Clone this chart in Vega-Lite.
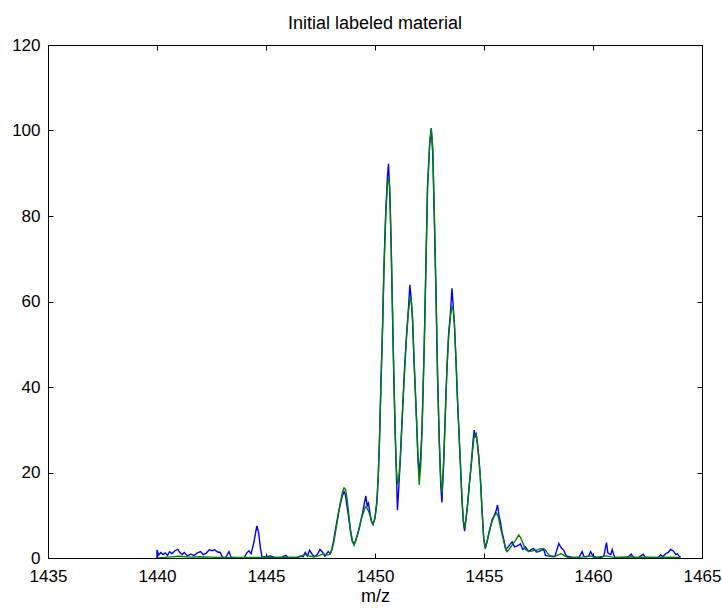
{
  "$schema": "https://vega.github.io/schema/vega-lite/v6.json",
  "autosize": {"type": "none"},
  "width": 654,
  "height": 513,
  "padding": {"left": 48, "top": 45, "right": 20, "bottom": 52},
  "background": "white",
  "title": {"text": "Initial labeled material", "fontSize": 18, "fontWeight": "normal", "font": "Liberation Sans", "color": "black", "offset": 3},
  "config": {
    "view": {"stroke": "black", "strokeWidth": 1},
    "axis": {"grid": false, "domainColor": "black", "tickColor": "black", "labelColor": "black", "titleColor": "black", "labelFont": "Liberation Sans", "titleFont": "Liberation Sans", "labelFontSize": 17, "titleFontSize": 18, "titleFontWeight": "normal", "tickSize": -5, "domainWidth": 1, "tickWidth": 1, "labelFlush": false}
  },
  "datasets": {
    "blue": [
{"m":1440.00,"v":0},{"m":1440.00,"v":1.9},{"m":1440.08,"v":0.7},{"m":1440.18,"v":1.3},{"m":1440.28,"v":0.8},{"m":1440.38,"v":1.2},{"m":1440.48,"v":0.6},{"m":1440.58,"v":1.5},{"m":1440.68,"v":1.0},{"m":1440.82,"v":1.7},{"m":1440.95,"v":2.0},{"m":1441.06,"v":1.2},{"m":1441.15,"v":0.8},{"m":1441.25,"v":1.3},{"m":1441.40,"v":0.5},{"m":1441.55,"v":0.9},{"m":1441.70,"v":0.6},{"m":1441.85,"v":1.2},{"m":1442.00,"v":1.5},{"m":1442.12,"v":0.8},{"m":1442.25,"v":1.1},{"m":1442.40,"v":1.9},{"m":1442.52,"v":1.7},{"m":1442.65,"v":1.9},{"m":1442.78,"v":1.4},{"m":1442.90,"v":1.3},{"m":1443.00,"v":0.2},{"m":1443.15,"v":0.1},{"m":1443.30,"v":1.5},{"m":1443.40,"v":0.2},{"m":1443.60,"v":0.1},{"m":1443.80,"v":0.0},{"m":1444.00,"v":0.1},{"m":1444.12,"v":1.2},{"m":1444.22,"v":1.7},{"m":1444.32,"v":1.0},{"m":1444.45,"v":3.8},{"m":1444.58,"v":7.5},{"m":1444.66,"v":6.0},{"m":1444.74,"v":2.5},{"m":1444.82,"v":0.2},{"m":1445.00,"v":0.3},{"m":1445.20,"v":0.5},{"m":1445.40,"v":0.1},{"m":1445.70,"v":0.1},{"m":1445.90,"v":0.6},{"m":1446.02,"v":0.1},{"m":1446.40,"v":0.1},{"m":1446.55,"v":0.4},{"m":1446.70,"v":0.3},{"m":1446.80,"v":1.3},{"m":1446.90,"v":0.5},{"m":1447.00,"v":1.8},{"m":1447.10,"v":1.0},{"m":1447.20,"v":0.3},{"m":1447.35,"v":0.8},{"m":1447.48,"v":2.0},{"m":1447.60,"v":1.3},{"m":1447.70,"v":0.4},{"m":1447.85,"v":1.5},{"m":1447.95,"v":1.0},{"m":1448.03,"v":2.3},{"m":1448.10,"v":4.0},{"m":1448.18,"v":6.5},{"m":1448.26,"v":8.8},{"m":1448.33,"v":10.8},{"m":1448.42,"v":12.8},{"m":1448.50,"v":14.5},{"m":1448.58,"v":15.5},{"m":1448.64,"v":14.8},{"m":1448.72,"v":12.0},{"m":1448.80,"v":9.2},{"m":1448.88,"v":6.0},{"m":1448.96,"v":3.8},{"m":1449.04,"v":3.2},{"m":1449.12,"v":4.2},{"m":1449.20,"v":5.5},{"m":1449.28,"v":7.0},{"m":1449.36,"v":9.0},{"m":1449.44,"v":10.8},{"m":1449.52,"v":13.0},{"m":1449.58,"v":14.5},{"m":1449.64,"v":12.2},{"m":1449.70,"v":12.8},{"m":1449.77,"v":10.5},{"m":1449.84,"v":8.5},{"m":1449.91,"v":7.8},{"m":1450.00,"v":9.5},{"m":1450.09,"v":13.6},{"m":1450.15,"v":19.4},{"m":1450.21,"v":28.4},{"m":1450.27,"v":40.5},{"m":1450.35,"v":55.0},{"m":1450.41,"v":68.1},{"m":1450.49,"v":80.6},{"m":1450.57,"v":89.2},{"m":1450.62,"v":92.2},{"m":1450.68,"v":85.0},{"m":1450.74,"v":73.0},{"m":1450.80,"v":58.0},{"m":1450.87,"v":40.9},{"m":1450.93,"v":28.4},{"m":1450.98,"v":19.8},{"m":1451.03,"v":11.2},{"m":1451.08,"v":15.5},{"m":1451.16,"v":22.9},{"m":1451.27,"v":35.4},{"m":1451.36,"v":44.7},{"m":1451.44,"v":51.8},{"m":1451.53,"v":58.0},{"m":1451.60,"v":63.9},{"m":1451.66,"v":60.5},{"m":1451.72,"v":56.0},{"m":1451.79,"v":46.3},{"m":1451.90,"v":33.0},{"m":1451.97,"v":24.0},{"m":1452.03,"v":19.5},{"m":1452.10,"v":24.0},{"m":1452.16,"v":30.7},{"m":1452.26,"v":50.2},{"m":1452.34,"v":69.7},{"m":1452.41,"v":86.9},{"m":1452.51,"v":97.0},{"m":1452.58,"v":100.5},{"m":1452.65,"v":94.5},{"m":1452.72,"v":79.8},{"m":1452.80,"v":61.1},{"m":1452.87,"v":42.4},{"m":1452.95,"v":26.8},{"m":1453.02,"v":16.5},{"m":1453.07,"v":13.0},{"m":1453.15,"v":22.9},{"m":1453.23,"v":34.6},{"m":1453.30,"v":44.7},{"m":1453.38,"v":52.6},{"m":1453.46,"v":57.2},{"m":1453.53,"v":63.1},{"m":1453.58,"v":59.5},{"m":1453.64,"v":54.9},{"m":1453.72,"v":45.5},{"m":1453.79,"v":36.2},{"m":1453.88,"v":26.1},{"m":1453.99,"v":13.6},{"m":1454.05,"v":8.5},{"m":1454.11,"v":6.3},{"m":1454.22,"v":11.2},{"m":1454.33,"v":17.5},{"m":1454.42,"v":22.2},{"m":1454.50,"v":27.5},{"m":1454.55,"v":29.9},{"m":1454.60,"v":28.5},{"m":1454.64,"v":29.0},{"m":1454.70,"v":26.5},{"m":1454.76,"v":23.7},{"m":1454.83,"v":19.0},{"m":1454.91,"v":11.2},{"m":1454.99,"v":4.2},{"m":1455.06,"v":2.2},{"m":1455.14,"v":3.8},{"m":1455.22,"v":5.8},{"m":1455.30,"v":7.4},{"m":1455.37,"v":8.9},{"m":1455.47,"v":10.0},{"m":1455.55,"v":11.0},{"m":1455.62,"v":12.4},{"m":1455.68,"v":10.2},{"m":1455.75,"v":8.5},{"m":1455.83,"v":6.0},{"m":1455.90,"v":4.5},{"m":1456.00,"v":2.0},{"m":1456.09,"v":2.5},{"m":1456.20,"v":3.2},{"m":1456.29,"v":3.8},{"m":1456.40,"v":2.6},{"m":1456.50,"v":2.8},{"m":1456.59,"v":3.0},{"m":1456.67,"v":3.3},{"m":1456.78,"v":2.0},{"m":1456.90,"v":2.6},{"m":1457.05,"v":1.5},{"m":1457.18,"v":2.0},{"m":1457.28,"v":2.2},{"m":1457.40,"v":1.4},{"m":1457.51,"v":1.5},{"m":1457.62,"v":1.8},{"m":1457.74,"v":2.0},{"m":1457.82,"v":0.6},{"m":1457.90,"v":0.5},{"m":1458.13,"v":0.4},{"m":1458.25,"v":0.3},{"m":1458.32,"v":1.5},{"m":1458.43,"v":3.4},{"m":1458.54,"v":2.4},{"m":1458.66,"v":1.8},{"m":1458.74,"v":0.8},{"m":1458.81,"v":0.4},{"m":1459.12,"v":0.1},{"m":1459.35,"v":0.1},{"m":1459.43,"v":0.8},{"m":1459.50,"v":1.5},{"m":1459.58,"v":0.4},{"m":1459.66,"v":0.3},{"m":1459.80,"v":0.4},{"m":1459.89,"v":1.5},{"m":1460.01,"v":0.4},{"m":1460.19,"v":0.1},{"m":1460.40,"v":0.1},{"m":1460.50,"v":0.5},{"m":1460.62,"v":3.6},{"m":1460.68,"v":1.2},{"m":1460.73,"v":1.0},{"m":1460.82,"v":0.8},{"m":1460.88,"v":2.0},{"m":1460.99,"v":0.2},{"m":1461.20,"v":0.1},{"m":1461.41,"v":0.1},{"m":1461.60,"v":0.2},{"m":1461.75,"v":0.9},{"m":1461.87,"v":0.1},{"m":1462.10,"v":0.1},{"m":1462.30,"v":0.9},{"m":1462.41,"v":0.1},{"m":1462.60,"v":0.1},{"m":1462.79,"v":0.1},{"m":1463.00,"v":0.2},{"m":1463.10,"v":0.7},{"m":1463.20,"v":0.3},{"m":1463.33,"v":1.0},{"m":1463.45,"v":1.3},{"m":1463.56,"v":2.0},{"m":1463.65,"v":1.8},{"m":1463.71,"v":1.5},{"m":1463.80,"v":0.8},{"m":1463.87,"v":1.0},{"m":1463.95,"v":0.4},{"m":1464.02,"v":0.2}
    ],
    "green": [
{"m":1440.00,"v":0.0},{"m":1440.50,"v":0.2},{"m":1441.00,"v":0.4},{"m":1441.50,"v":0.2},{"m":1442.00,"v":0.3},{"m":1442.50,"v":0.2},{"m":1443.00,"v":0.1},{"m":1444.00,"v":0.1},{"m":1445.00,"v":0.1},{"m":1446.00,"v":0.1},{"m":1446.50,"v":0.2},{"m":1446.70,"v":0.6},{"m":1446.80,"v":0.8},{"m":1446.90,"v":0.6},{"m":1447.00,"v":0.4},{"m":1447.20,"v":0.3},{"m":1447.40,"v":0.5},{"m":1447.55,"v":0.8},{"m":1447.65,"v":1.0},{"m":1447.75,"v":0.7},{"m":1447.90,"v":0.8},{"m":1448.00,"v":1.5},{"m":1448.10,"v":3.5},{"m":1448.18,"v":5.8},{"m":1448.26,"v":8.2},{"m":1448.34,"v":10.8},{"m":1448.42,"v":13.2},{"m":1448.50,"v":15.2},{"m":1448.58,"v":16.4},{"m":1448.65,"v":16.0},{"m":1448.72,"v":13.8},{"m":1448.80,"v":10.0},{"m":1448.88,"v":6.5},{"m":1448.96,"v":4.2},{"m":1449.04,"v":3.0},{"m":1449.12,"v":4.0},{"m":1449.20,"v":5.5},{"m":1449.28,"v":7.2},{"m":1449.36,"v":8.8},{"m":1449.44,"v":10.2},{"m":1449.52,"v":11.5},{"m":1449.58,"v":12.0},{"m":1449.64,"v":11.6},{"m":1449.70,"v":11.0},{"m":1449.77,"v":10.0},{"m":1449.84,"v":8.6},{"m":1449.91,"v":8.0},{"m":1450.00,"v":9.2},{"m":1450.09,"v":13.0},{"m":1450.15,"v":19.0},{"m":1450.21,"v":28.0},{"m":1450.27,"v":40.0},{"m":1450.35,"v":54.0},{"m":1450.41,"v":67.0},{"m":1450.49,"v":79.5},{"m":1450.57,"v":87.5},{"m":1450.63,"v":88.8},{"m":1450.68,"v":86.5},{"m":1450.74,"v":74.0},{"m":1450.80,"v":58.5},{"m":1450.87,"v":41.5},{"m":1450.93,"v":29.0},{"m":1450.98,"v":21.0},{"m":1451.03,"v":17.5},{"m":1451.08,"v":18.0},{"m":1451.16,"v":23.5},{"m":1451.27,"v":35.0},{"m":1451.36,"v":44.0},{"m":1451.44,"v":51.0},{"m":1451.53,"v":57.5},{"m":1451.60,"v":60.5},{"m":1451.65,"v":61.1},{"m":1451.72,"v":56.5},{"m":1451.79,"v":46.5},{"m":1451.90,"v":33.0},{"m":1451.97,"v":23.0},{"m":1452.03,"v":17.1},{"m":1452.10,"v":22.0},{"m":1452.16,"v":30.0},{"m":1452.26,"v":49.5},{"m":1452.34,"v":69.0},{"m":1452.41,"v":86.5},{"m":1452.51,"v":97.0},{"m":1452.58,"v":100.5},{"m":1452.65,"v":96.0},{"m":1452.72,"v":81.0},{"m":1452.80,"v":62.0},{"m":1452.87,"v":43.0},{"m":1452.95,"v":27.5},{"m":1453.02,"v":18.0},{"m":1453.07,"v":15.1},{"m":1453.15,"v":22.0},{"m":1453.23,"v":34.0},{"m":1453.30,"v":44.0},{"m":1453.38,"v":52.0},{"m":1453.46,"v":56.5},{"m":1453.53,"v":58.8},{"m":1453.58,"v":58.5},{"m":1453.64,"v":55.0},{"m":1453.72,"v":46.0},{"m":1453.79,"v":36.5},{"m":1453.88,"v":26.5},{"m":1453.99,"v":14.0},{"m":1454.05,"v":9.0},{"m":1454.11,"v":6.9},{"m":1454.22,"v":11.0},{"m":1454.33,"v":17.2},{"m":1454.42,"v":22.0},{"m":1454.50,"v":26.5},{"m":1454.57,"v":29.0},{"m":1454.64,"v":28.8},{"m":1454.70,"v":27.0},{"m":1454.76,"v":23.5},{"m":1454.83,"v":19.0},{"m":1454.91,"v":11.0},{"m":1454.99,"v":4.5},{"m":1455.06,"v":2.6},{"m":1455.14,"v":3.8},{"m":1455.22,"v":5.6},{"m":1455.30,"v":7.2},{"m":1455.37,"v":8.6},{"m":1455.47,"v":9.8},{"m":1455.57,"v":10.5},{"m":1455.65,"v":9.8},{"m":1455.75,"v":7.3},{"m":1455.83,"v":5.5},{"m":1455.90,"v":4.0},{"m":1456.00,"v":2.0},{"m":1456.06,"v":1.5},{"m":1456.15,"v":2.0},{"m":1456.29,"v":3.0},{"m":1456.45,"v":4.2},{"m":1456.59,"v":5.4},{"m":1456.68,"v":4.8},{"m":1456.78,"v":3.5},{"m":1456.90,"v":2.0},{"m":1457.05,"v":1.5},{"m":1457.18,"v":1.6},{"m":1457.28,"v":1.8},{"m":1457.40,"v":1.8},{"m":1457.51,"v":2.0},{"m":1457.62,"v":2.2},{"m":1457.74,"v":2.2},{"m":1457.82,"v":1.8},{"m":1457.90,"v":1.2},{"m":1458.00,"v":0.6},{"m":1458.13,"v":0.3},{"m":1458.25,"v":0.4},{"m":1458.43,"v":0.8},{"m":1458.54,"v":1.0},{"m":1458.66,"v":0.6},{"m":1458.81,"v":0.2},{"m":1459.00,"v":0.1},{"m":1459.50,"v":0.2},{"m":1459.89,"v":0.5},{"m":1460.10,"v":0.1},{"m":1460.62,"v":0.5},{"m":1460.90,"v":0.2},{"m":1461.20,"v":0.1},{"m":1461.75,"v":0.3},{"m":1462.00,"v":0.1},{"m":1462.30,"v":0.2},{"m":1462.60,"v":0.1},{"m":1463.00,"v":0.1},{"m":1463.56,"v":0.2},{"m":1464.02,"v":0.1}
    ]
  },
  "layer": [
    {
      "data": {"name": "blue"},
      "mark": {"type": "line", "color": "#0000ff", "strokeWidth": 1.4, "clip": true},
      "encoding": {
        "x": {"field": "m", "type": "quantitative", "scale": {"domain": [1435, 1465], "nice": false, "zero": false},
              "axis": {"title": "m/z", "values": [1435,1440,1445,1450,1455,1460,1465], "format": "d", "labelPadding": 15, "titlePadding": 3}},
        "y": {"field": "v", "type": "quantitative", "scale": {"domain": [0, 120], "nice": false},
              "axis": {"title": null, "values": [0,20,40,60,80,100,120], "labelPadding": 13}}
      }
    },
    {
      "data": {"name": "green"},
      "mark": {"type": "line", "color": "#008000", "strokeWidth": 1.4, "clip": true},
      "encoding": {
        "x": {"field": "m", "type": "quantitative", "axis": {"orient": "top", "title": null, "labels": false, "values": [1435,1440,1445,1450,1455,1460,1465]}},
        "y": {"field": "v", "type": "quantitative", "axis": {"orient": "right", "title": null, "labels": false, "values": [0,20,40,60,80,100,120]}}
      }
    }
  ],
  "resolve": {"axis": {"x": "independent", "y": "independent"}}
}
